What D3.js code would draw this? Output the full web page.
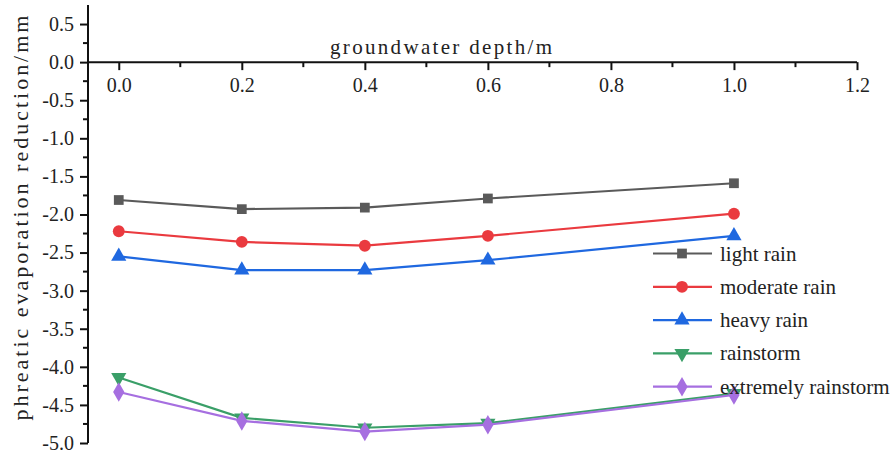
<!DOCTYPE html>
<html><head><meta charset="utf-8">
<script src="https://cdn.jsdelivr.net/npm/d3@7"></script>
<style>body{margin:0;background:#fff}svg{display:block}</style>
</head><body><svg id="c" width="895" height="455" font-family="Liberation Serif"></svg>
<script>
const depths = [0.0, 0.2, 0.4, 0.6, 1.0];
const seriesNames = ["light rain", "moderate rain", "heavy rain", "rainstorm", "extremely rainstorm"];
const lightRain = [-1.81, -1.93, -1.91, -1.79, -1.59];
const moderateRain = [-2.22, -2.36, -2.41, -2.28, -1.99];
const heavyRain = [-2.55, -2.73, -2.73, -2.60, -2.28];
const rainstorm = [-4.14, -4.67, -4.80, -4.74, -4.35];
const extremeRainstorm = [-4.33, -4.71, -4.85, -4.76, -4.37];
const xTicks = [0.0, 0.2, 0.4, 0.6, 0.8, 1.0, 1.2];
const yTicks = [0.5, 0.0, -0.5, -1.0, -1.5, -2.0, -2.5, -3.0, -3.5, -4.0, -4.5, -5.0];
const colors = ["#5a5a5a", "#ea3a3f", "#1f68e0", "#3a9f68", "#a66fe0"];
const symbols = [d3.symbolSquare, d3.symbolCircle, d3.symbolTriangle, "tri-down", d3.symbolDiamond];
const allSeries = [lightRain, moderateRain, heavyRain, rainstorm, extremeRainstorm];
const FONT = "Liberation Serif";

const svg = d3.select("#c");
const x = d3.scaleLinear().domain([-0.05, 1.2]).range([88, 857]);
const y = d3.scaleLinear().domain([-5, 0.75]).range([443, 5]);

// y axis
const yAxis = d3.axisLeft(y).tickValues(yTicks).tickFormat(d => d3.format(".1f")(d).replace("−", "-")).tickSize(8).tickPadding(6);
const gy = svg.append("g").attr("transform", `translate(${x(-0.05)},0)`).call(yAxis)
  .attr("font-family", FONT).attr("font-size", 20);
gy.select(".domain").attr("stroke", "#111").attr("stroke-width", 2).attr("d", `M0,${y(0.75)}V${y(-5)}`);
gy.selectAll(".tick line").attr("stroke", "#111").attr("stroke-width", 2);
gy.selectAll(".tick text").attr("font-family", FONT).attr("font-size", 20).attr("fill", "#222");
const yMinor = d3.range(-4.75, 0.75, 0.5);
gy.selectAll(".minor").data(yMinor).enter().append("line")
  .attr("x1", 0).attr("x2", -5).attr("y1", d => y(d)).attr("y2", d => y(d))
  .attr("stroke", "#111").attr("stroke-width", 2);

// x axis at y=0
const xAxis = d3.axisBottom(x).tickValues(xTicks).tickFormat(d3.format(".1f")).tickSize(8).tickPadding(8);
const gx = svg.append("g").attr("transform", `translate(0,${y(0)})`).call(xAxis)
  .attr("font-family", FONT).attr("font-size", 20);
gx.select(".domain").attr("stroke", "#111").attr("stroke-width", 2).attr("d", `M${x(-0.05)},0H${x(1.2)}`);
gx.selectAll(".tick line").attr("stroke", "#111").attr("stroke-width", 2);
gx.selectAll(".tick text").attr("font-family", FONT).attr("font-size", 20).attr("fill", "#222");
const xMinor = [0.1, 0.3, 0.5, 0.7, 0.9, 1.1];
gx.selectAll(".minor").data(xMinor).enter().append("line")
  .attr("x1", d => x(d)).attr("x2", d => x(d)).attr("y1", 0).attr("y2", 5)
  .attr("stroke", "#111").attr("stroke-width", 2);

// titles
svg.append("text").attr("x", 441).attr("y", 54).attr("text-anchor", "middle")
  .attr("font-size", 21).attr("font-family", FONT).attr("fill", "#222")
  .attr("textLength", 222).attr("lengthAdjust", "spacing")
  .text("groundwater depth/m");
svg.append("text").attr("transform", "translate(28,218) rotate(-90)").attr("text-anchor", "middle")
  .attr("font-size", 22).attr("font-family", FONT).attr("fill", "#222")
  .attr("textLength", 405).attr("lengthAdjust", "spacing")
  .text("phreatic evaporation reduction/mm");

function sym(i, size) {
  if (symbols[i] === "tri-down") return d3.symbol().type(d3.symbolTriangle).size(size)();
  return d3.symbol().type(symbols[i]).size(size)();
}
const sizes = [95, 110, 100, 100, 110];

const line = d3.line().x(d => x(d[0])).y(d => y(d[1]));
allSeries.forEach((vals, i) => {
  const pts = depths.map((d, j) => [d, vals[j]]);
  const g = svg.append("g");
  g.append("path").attr("d", line(pts)).attr("fill", "none").attr("stroke", colors[i]).attr("stroke-width", 2.2);
  g.selectAll("path.m").data(pts).enter().append("path").attr("class", "m")
    .attr("d", sym(i, sizes[i]))
    .attr("transform", d => `translate(${x(d[0])},${y(d[1])})` + (symbols[i] === "tri-down" ? " rotate(180)" : ""))
    .attr("fill", colors[i]);
});

// legend
const lg = svg.append("g");
seriesNames.forEach((name, i) => {
  const ly = 253.5 + i * 33.3;
  lg.append("line").attr("x1", 653).attr("x2", 712).attr("y1", ly).attr("y2", ly).attr("stroke", colors[i]).attr("stroke-width", 2.2);
  lg.append("path").attr("d", sym(i, sizes[i])).attr("fill", colors[i])
    .attr("transform", `translate(682,${ly})` + (symbols[i] === "tri-down" ? " rotate(180)" : ""));
  lg.append("text").attr("x", 720).attr("y", ly + 7).attr("font-size", 21).attr("font-family", FONT)
    .attr("fill", "#222").text(name);
});
</script></body></html>
